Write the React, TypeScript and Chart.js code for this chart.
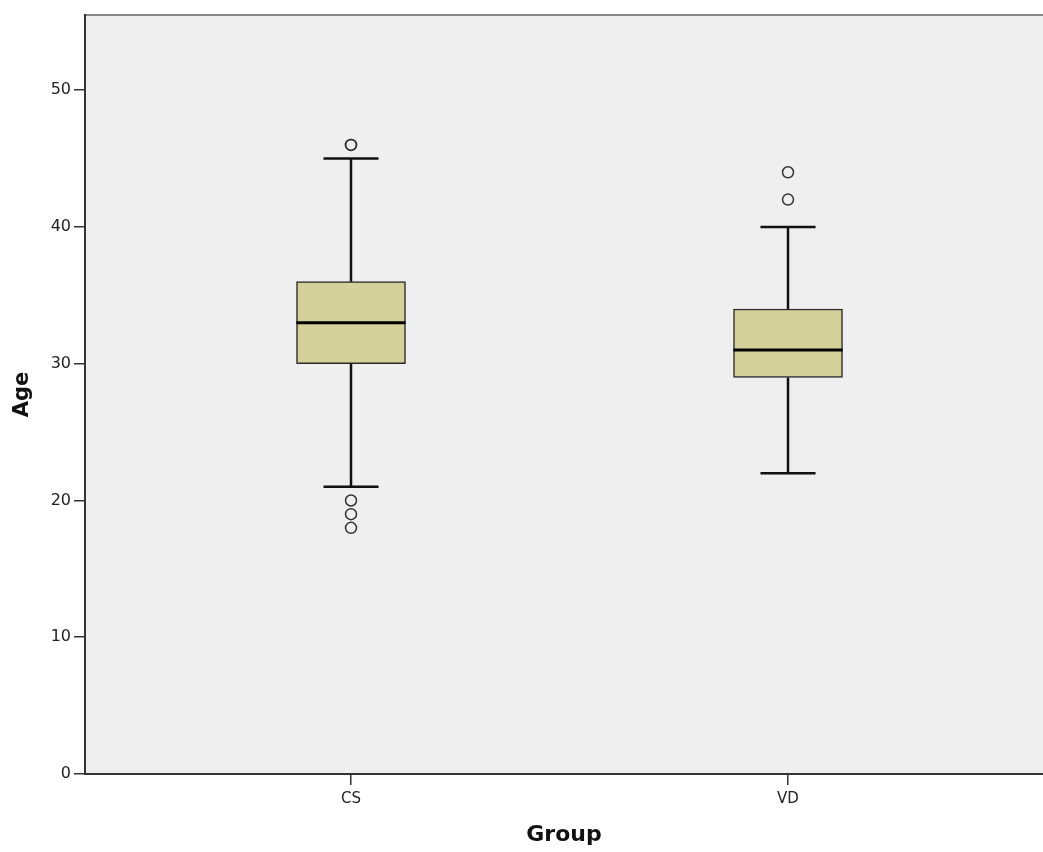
import React, { useEffect, useRef } from "react";
import { Chart, registerables } from "chart.js";

Chart.register(...registerables);

const categories = ["CS", "VD"];
const q1 = [30, 29];
const medians = [33, 31];
const q3 = [36, 34];
const whiskerLow = [21, 22];
const whiskerHigh = [45, 40];
const outliers = [
  [46, 46, 20, 19, 18],
  [44, 42],
];
const yTicks = [0, 10, 20, 30, 40, 50];

const BOX_HALF = 0.125;
const CAP_HALF = 0.063;
const FONT = "'DejaVu Sans', sans-serif";

const bgPlugin = {
  id: "plotBg",
  beforeDraw(chart: any) {
    const { ctx, chartArea } = chart;
    ctx.save();
    ctx.fillStyle = "#efefef";
    ctx.fillRect(chartArea.left, chartArea.top, chartArea.right - chartArea.left, chartArea.bottom - chartArea.top);
    ctx.strokeStyle = "#888888";
    ctx.lineWidth = 2;
    ctx.beginPath();
    ctx.moveTo(chartArea.left, chartArea.top);
    ctx.lineTo(chartArea.right, chartArea.top);
    ctx.stroke();
    ctx.restore();
  },
};

export default function App() {
  const ref = useRef<HTMLCanvasElement>(null);

  useEffect(() => {
    if (!ref.current) return;
    const pos = categories.map((_, i) => i + 1);

    const whiskerData: any[] = [];
    const capData: any[] = [];
    const medianData: any[] = [];
    const outlierData: any[] = [];
    pos.forEach((x, i) => {
      whiskerData.push({ x, y: whiskerLow[i] }, { x, y: q1[i] }, { x, y: null });
      whiskerData.push({ x, y: q3[i] }, { x, y: whiskerHigh[i] }, { x, y: null });
      capData.push({ x: x - CAP_HALF, y: whiskerLow[i] }, { x: x + CAP_HALF, y: whiskerLow[i] }, { x, y: null });
      capData.push({ x: x - CAP_HALF, y: whiskerHigh[i] }, { x: x + CAP_HALF, y: whiskerHigh[i] }, { x, y: null });
      medianData.push({ x: x - BOX_HALF, y: medians[i] }, { x: x + BOX_HALF, y: medians[i] }, { x, y: null });
      outliers[i].forEach((v) => outlierData.push({ x, y: v }));
    });

    const chart = new Chart(ref.current, {
      type: "bar",
      data: {
        datasets: [
          {
            type: "bar",
            data: pos.map((x, i) => ({ x, y: [q1[i], q3[i]] })) as any,
            backgroundColor: "#d4d09a",
            borderColor: "#2a2a2a",
            borderWidth: 1.5,
            borderSkipped: false,
            barThickness: 109,
            order: 3,
          } as any,
          {
            type: "line",
            data: whiskerData,
            borderColor: "#111111",
            borderWidth: 2.5,
            pointRadius: 0,
            spanGaps: false,
            order: 2,
          },
          {
            type: "line",
            data: capData,
            borderColor: "#111111",
            borderWidth: 2.5,
            pointRadius: 0,
            spanGaps: false,
            order: 2,
          },
          {
            type: "line",
            data: medianData,
            borderColor: "#000000",
            borderWidth: 3,
            pointRadius: 0,
            spanGaps: false,
            order: 0,
          },
          {
            type: "scatter",
            data: outlierData,
            pointRadius: 5.5,
            pointBorderWidth: 1.5,
            pointBorderColor: "#333333",
            pointBackgroundColor: "rgba(0,0,0,0)",
            showLine: false,
            order: 0,
          } as any,
        ],
      },
      options: {
        responsive: false,
        animation: false,
        layout: { autoPadding: false, padding: { top: 15, left: 0, right: 0, bottom: 0 } },
        plugins: {
          legend: { display: false },
          tooltip: { enabled: false },
        },
        scales: {
          x: {
            type: "linear",
            min: 0.3913,
            max: 2.5835,
            offset: false,
            afterBuildTicks: (scale: any) => {
              scale.ticks = pos.map((v) => ({ value: v }));
            },
            afterFit: (scale: any) => {
              scale.height = 78;
              scale.paddingRight = 0;
              scale.paddingLeft = 0;
            },
            ticks: {
              autoSkip: false,
              maxRotation: 0,
              padding: 5,
              color: "#222222",
              font: { family: FONT, size: 15 },
              callback: (v: any) => categories[Number(v) - 1] ?? "",
            },
            grid: {
              display: true,
              offset: false,
              drawOnChartArea: false,
              drawTicks: true,
              tickLength: 11,
              color: "#333333",
              lineWidth: 1.5,
            },
            border: { display: true, color: "#333333", width: 2 },
            title: {
              display: true,
              text: "Group",
              color: "#111111",
              font: { family: FONT, size: 22, weight: "bold" },
              padding: { top: 4, bottom: 4 },
            },
          },
          y: {
            type: "linear",
            min: 0,
            max: 55.5,
            afterBuildTicks: (scale: any) => {
              scale.ticks = yTicks.map((v) => ({ value: v }));
            },
            afterFit: (scale: any) => {
              scale.width = 85;
            },
            ticks: {
              padding: 3,
              color: "#222222",
              font: { family: FONT, size: 16 },
            },
            grid: {
              display: true,
              drawOnChartArea: false,
              drawTicks: true,
              tickLength: 11,
              color: "#333333",
              lineWidth: 1.5,
            },
            border: { display: true, color: "#333333", width: 2 },
            title: {
              display: true,
              text: "Age",
              color: "#111111",
              font: { family: FONT, size: 21, weight: "bold" },
              padding: { top: 10, bottom: 4 },
            },
          },
        },
      },
      plugins: [bgPlugin],
    });
    return () => chart.destroy();
  }, []);

  return (
    <div style={{ position: "fixed", left: 0, top: 0, width: 1043, height: 852, background: "#ffffff" }}>
      <canvas ref={ref} width={1043} height={852} style={{ display: "block" }} />
    </div>
  );
}
